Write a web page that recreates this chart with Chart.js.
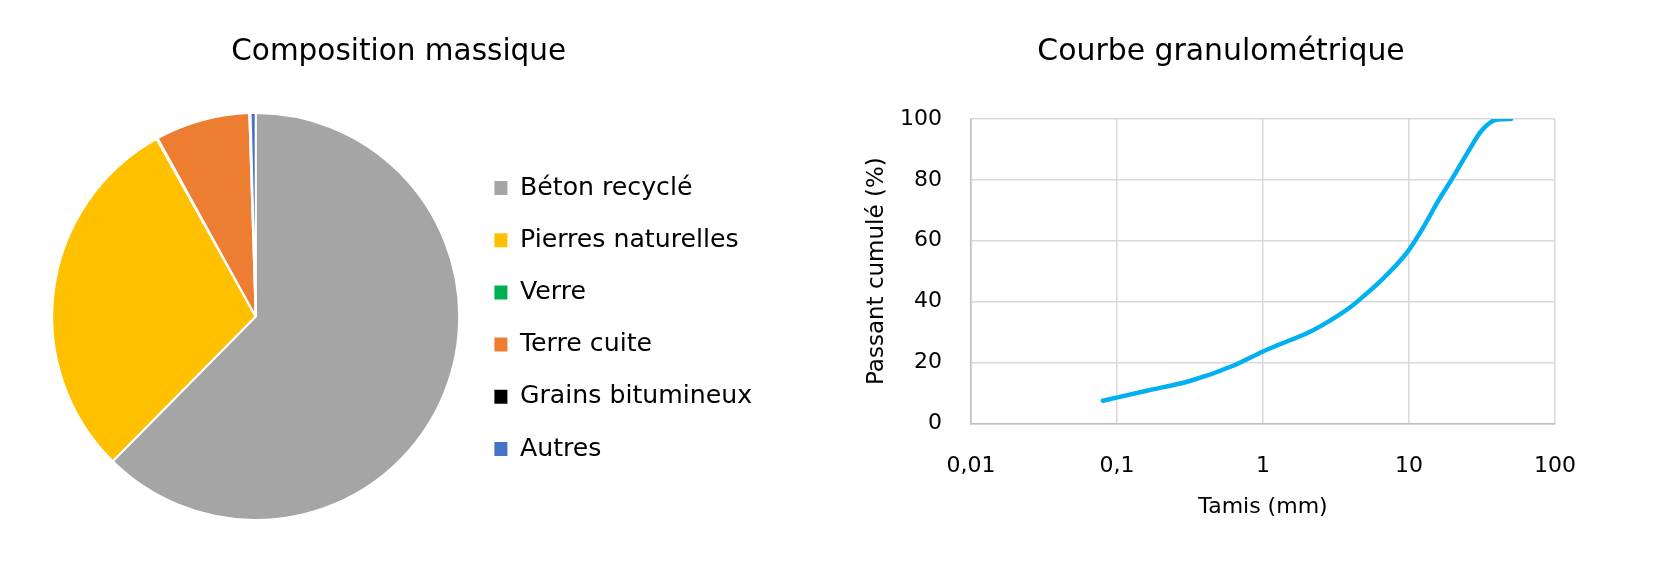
<!DOCTYPE html>
<html lang="fr">
<head>
<meta charset="utf-8">
<title>Composition massique / Courbe granulométrique</title>
<script src="https://cdn.jsdelivr.net/npm/chart.js@4.4.0/dist/chart.umd.min.js"></script>
<style>
    html, body { margin: 0; padding: 0; background: #fff; }
    #wrap { position: relative; width: 1665px; height: 565px; overflow: hidden; }
    #pieChart { position: absolute; left: 0; top: 0; }
    #lineChart { position: absolute; left: 832px; top: 0; }
</style>
</head>
<body>
<div id="wrap">
    <canvas id="pieChart" width="830" height="565"></canvas>
    <canvas id="lineChart" width="833" height="565"></canvas>
</div>
<script>
// Composition massique (%)
const pieLabels = ['Béton recyclé', 'Pierres naturelles', 'Verre', 'Terre cuite', 'Grains bitumineux', 'Autres'];
const pieValues = [62.4, 29.5, 0.1, 7.5, 0.1, 0.4];
const pieColors = ['#A5A5A5', '#FFC000', '#00B050', '#ED7D31', '#000000', '#4472C4'];

// Courbe granulométrique : tamis (mm) / passant cumulé (%)
const sieveSizes = [0.08, 0.16, 0.315, 0.63, 1, 1.25, 2, 2.5, 4, 5, 6.3, 8, 10, 12.5, 16, 20, 25, 31.5, 40, 50];
const passing = [7.4, 10.7, 13.9, 19.0, 23.6, 25.6, 29.6, 32.0, 38.3, 42.2, 46.5, 51.5, 57.0, 64.3, 73.4, 80.8, 88.7, 96.2, 99.8, 100];

// Axis ticks
const xTicks = [0.01, 0.1, 1, 10, 100];
const xTickLabels = ['0,01', '0,1', '1', '10', '100'];
const yTicks = [0, 20, 40, 60, 80, 100];

Chart.defaults.font.family = "'DejaVu Sans', sans-serif";
Chart.defaults.color = '#000';

// Pie chart
function drawPie() {
    const ctx = document.getElementById('pieChart').getContext('2d');
    return new Chart(ctx, {
        type: 'pie',
        data: {
            labels: pieLabels,
            datasets: [{
                data: pieValues,
                backgroundColor: pieColors,
                borderColor: '#fff',
                borderWidth: 2
            }]
        },
        options: {
            responsive: false,
            animation: false,
            layout: { padding: { left: 44, right: 76.6, top: 0, bottom: 44 } },
            plugins: {
                title: {
                    display: true,
                    text: 'Composition massique',
                    font: { size: 29.5, weight: 'normal', lineHeight: 1.2 },
                    padding: { top: 34.4, bottom: 42.2 }
                },
                legend: {
                    position: 'right',
                    fullSize: false,
                    maxWidth: 286,
                    // empty title only nudges the items down a little
                    title: { display: true, text: '', font: { size: 1, lineHeight: 1 }, padding: { top: 3, bottom: 0 } },
                    labels: {
                        boxWidth: 13,
                        boxHeight: 14,
                        padding: 27,
                        font: { size: 25.2 },
                        color: '#000',
                        generateLabels: (chart) => {
                            const items = Chart.overrides.pie.plugins.legend.labels.generateLabels(chart);
                            return items.map(item => ({ ...item, lineWidth: 0 }));
                        }
                    },
                    onClick: null
                },
                tooltip: { enabled: false }
            }
        }
    });
}

// Line chart (log x axis)
function drawLine() {
    const ctx = document.getElementById('lineChart').getContext('2d');
    const points = sieveSizes.map((size, i) => ({ x: size, y: passing[i] }));

    return new Chart(ctx, {
        type: 'line',
        data: {
            datasets: [{
                data: points,
                borderColor: '#00B0F0',
                borderWidth: 4.5,
                borderCapStyle: 'round',
                pointRadius: 0,
                cubicInterpolationMode: 'monotone',
                fill: false
            }]
        },
        options: {
            responsive: false,
            animation: false,
            layout: { padding: { left: 55, right: 110, top: 0, bottom: 0 } },
            plugins: {
                title: {
                    display: true,
                    text: 'Courbe granulométrique',
                    font: { size: 29.9, weight: 'normal', lineHeight: 1.2 },
                    padding: { top: 34.4, bottom: 48.7 }
                },
                legend: { display: false },
                tooltip: { enabled: false }
            },
            scales: {
                x: {
                    type: 'logarithmic',
                    min: xTicks[0],
                    max: xTicks[xTicks.length - 1],
                    afterBuildTicks: (scale) => {
                        scale.ticks = xTicks.map(v => ({ value: v, major: true }));
                    },
                    afterFit: (scale) => { scale.height = 141.7; },
                    ticks: {
                        autoSkip: false,
                        maxRotation: 0,
                        padding: 29.5,
                        font: { size: 22 },
                        callback: (value, index) => xTickLabels[index]
                    },
                    grid: { color: '#D9D9D9', lineWidth: 1.5, drawTicks: false },
                    border: { color: '#BFBFBF', width: 1.5 },
                    title: {
                        display: true,
                        text: 'Tamis (mm)',
                        font: { size: 22, lineHeight: 1.2 },
                        padding: { top: 0, bottom: 44.8 }
                    }
                },
                y: {
                    min: yTicks[0],
                    max: yTicks[yTicks.length - 1],
                    afterBuildTicks: (scale) => {
                        scale.ticks = yTicks.map(v => ({ value: v }));
                    },
                    afterFit: (scale) => { scale.width = 84; },
                    ticks: {
                        padding: 29,
                        font: { size: 22 }
                    },
                    grid: { color: '#D9D9D9', lineWidth: 1.5, drawTicks: false },
                    border: { color: '#BFBFBF', width: 1.5 },
                    title: {
                        display: true,
                        text: 'Passant cumulé (%)',
                        font: { size: 23, lineHeight: 1.2 },
                        padding: { top: -23.8, bottom: 0 }
                    }
                }
            }
        }
    });
}

window.addEventListener('DOMContentLoaded', () => {
    drawPie();
    drawLine();
});
</script>
</body>
</html>
